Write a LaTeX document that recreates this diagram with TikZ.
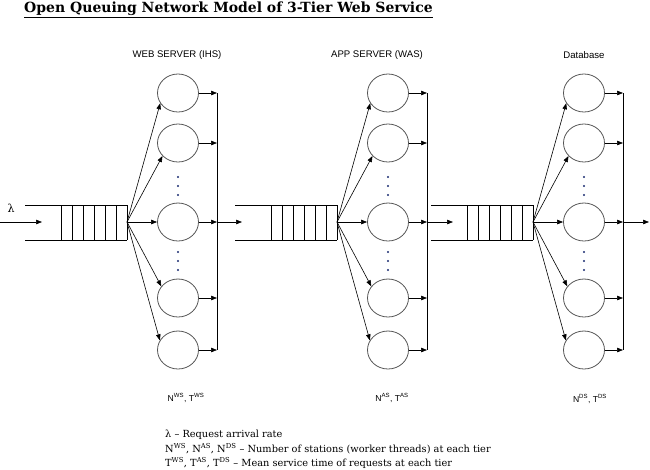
\documentclass[tikz,border=0pt]{standalone}
\usepackage{fontspec}
\setmainfont{DejaVu Serif}
\setsansfont{Liberation Sans}
\usetikzlibrary{shapes.geometric,arrows.meta}
\definecolor{dotblue}{HTML}{1A2A70}
\definecolor{ringgray}{HTML}{555555}
\begin{document}
\begin{tikzpicture}[x=1pt,y=-1pt,
  srv/.style={ellipse,draw=ringgray,line width=0.8pt,minimum width=41pt,minimum height=38pt,inner sep=0pt},
  arr/.style={-{Triangle[length=6pt,width=4.5pt]},line width=0.6pt},
  ln/.style={line width=1pt},
  lbl/.style={font=\sffamily\fontsize{9.6}{11}\selectfont,inner sep=0pt},
  bl/.style={font=\sffamily\fontsize{8.6}{10}\selectfont,inner sep=0pt},
  leg/.style={font=\fontsize{9.8}{11}\selectfont,inner sep=0pt,anchor=west}]
\useasboundingbox (0,0) rectangle (650,469);
\node[inner sep=0pt,anchor=west,font=\bfseries\fontsize{14}{16}\selectfont] (title) at (24,10) {\underline{Open Queuing Network Model of 3-Tier Web Service}};
% tiers
\foreach \t/\X/\tip in {1/25/42,2/235/242,3/431/453}{
  \draw[ln] (\X,205) -- (\X+102,205);
  \draw[ln] (\X,240) -- (\X+102,240);
  \foreach \k in {0,...,6}{\draw[ln] (\X+36+\k*11,205) -- (\X+36+\k*11,240);}
  \coordinate (f\t) at (\X+102,222);
  \coordinate (in\t) at (\tip,222);
  \foreach \i/\y in {1/93,2/143,3/222,4/298,5/350}{\node[srv] (c\t\i) at (\X+153,\y) {};}
  \coordinate (kt\t) at (\X+192,93);
  \coordinate (kb\t) at (\X+192,350);
  \coordinate (km\t) at (\X+192,222);
  \draw[ln] (kt\t) -- (kb\t);
  \foreach \i in {1,...,5}{\draw[arr] (c\t\i.east) -- (c\t\i.east -| kt\t);}
  \draw[arr] (f\t) -- (c\t1.210);
  \draw[arr] (f\t) -- (c\t2.220);
  \draw[arr] (f\t) -- (c\t3.west);
  \draw[arr] (f\t) -- (c\t4.145);
  \draw[arr] (f\t) -- (c\t5.152);
  \foreach \y in {177,186,195,252,261,270}{\fill[dotblue] (\X+153,\y) circle (1.2);}
}
\coordinate (src) at (0,222);
\coordinate (sink) at (649,222);
\draw[arr] (src) -- (in1);
\draw[arr] (km1) -- (in2);
\draw[arr] (km2) -- (in3);
\draw[arr] (km3) -- (sink);
\node[font=\fontsize{11}{13}\selectfont,inner sep=0pt] (lam) at (11,208) {λ};
% labels
\node[lbl] (h1) at (177,55) {WEB SERVER (IHS)};
\node[lbl] (h2) at (377,55) {APP SERVER (WAS)};
\node[lbl] (h3) at (584,55) {Database};
\node[bl] (b1) at (186,398) {N\textsuperscript{WS}, T\textsuperscript{WS}};
\node[bl] (b2) at (392,398) {N\textsuperscript{AS}, T\textsuperscript{AS}};
\node[bl] (b3) at (590,399) {N\textsuperscript{DS}, T\textsuperscript{DS}};
% legend
\node[leg] (l1) at (165,435) {λ – Request arrival rate};
\node[leg] (l2) at (165,449) {N\textsuperscript{WS}, N\textsuperscript{AS}, N\textsuperscript{DS} – Number of stations (worker threads) at each tier};
\node[leg] (l3) at (165,463) {T\textsuperscript{WS}, T\textsuperscript{AS}, T\textsuperscript{DS} – Mean service time of requests at each tier};
\end{tikzpicture}
\end{document}
